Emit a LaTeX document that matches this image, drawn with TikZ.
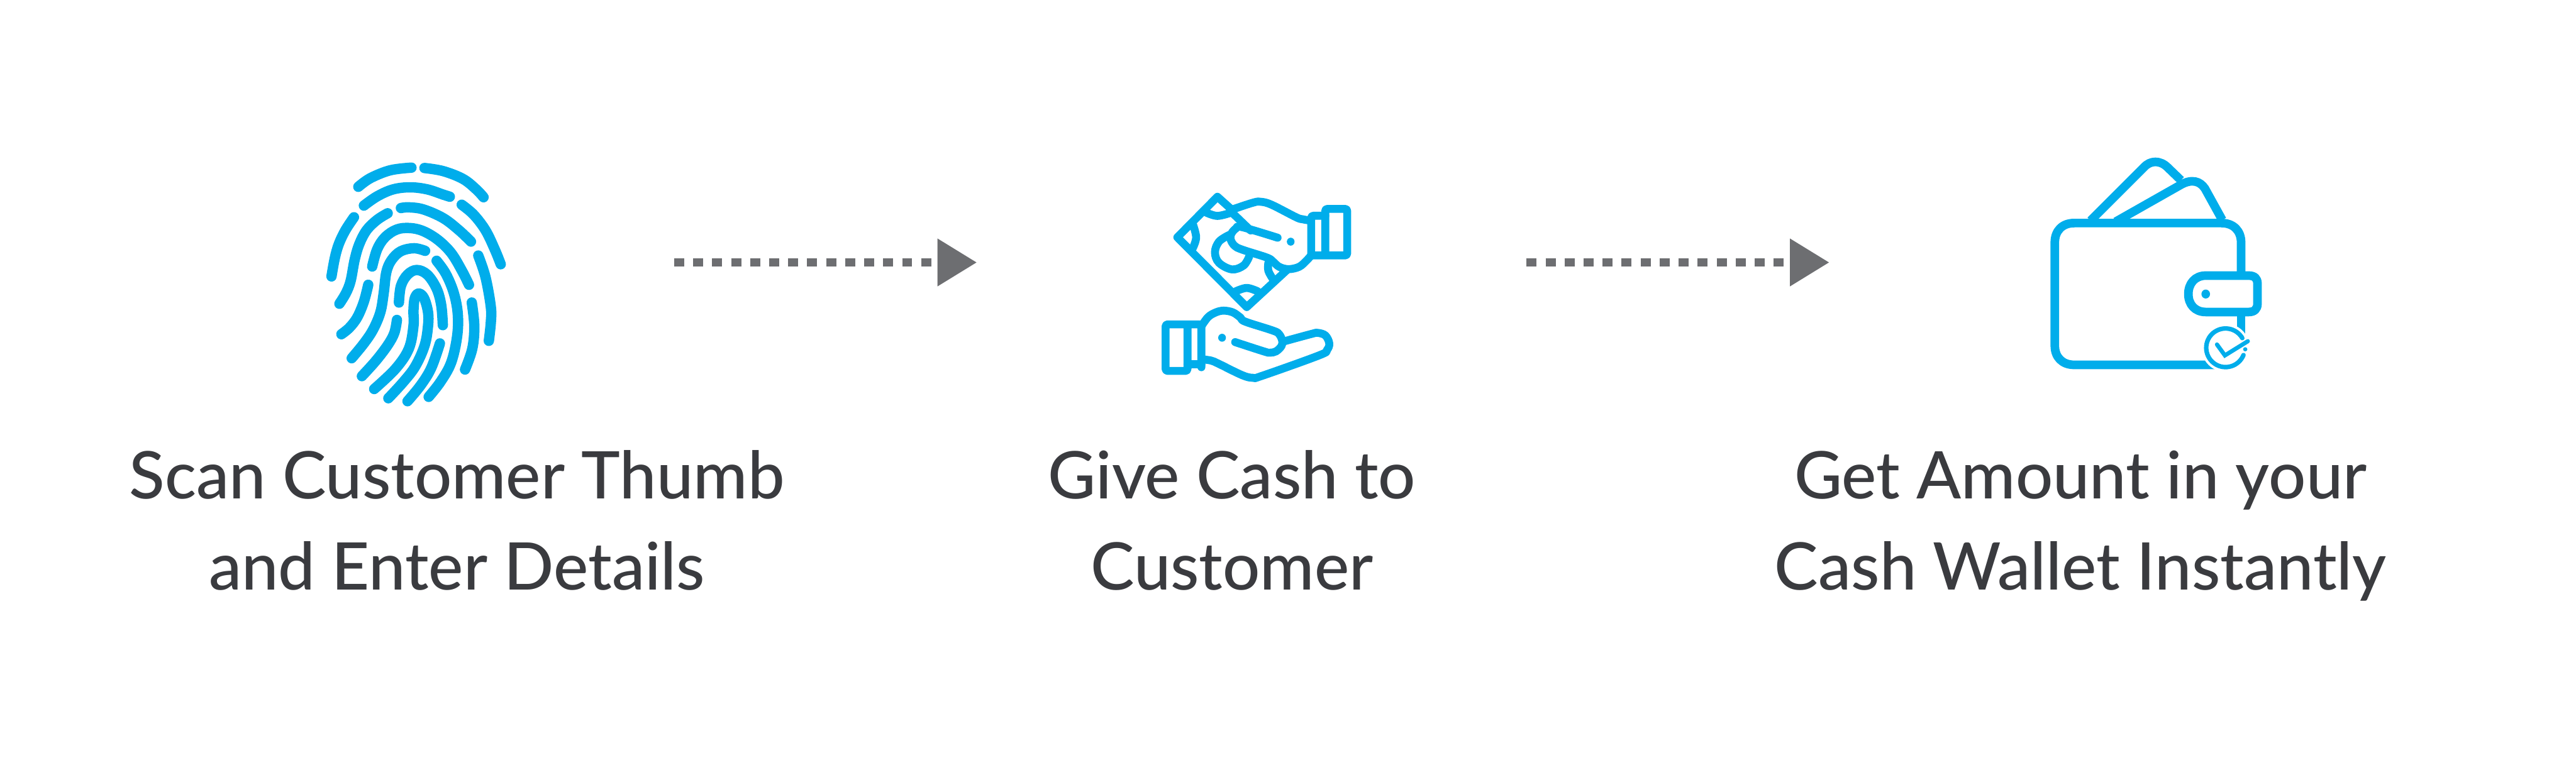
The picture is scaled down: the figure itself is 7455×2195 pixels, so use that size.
\documentclass[tikz,border=0pt]{standalone}
\usepackage{fontspec}
\setmainfont{Lato Medium}
\usetikzlibrary{arrows.meta}
\definecolor{iconblue}{HTML}{00ADEB}
\definecolor{arrowgray}{HTML}{6D6E71}
\definecolor{textgray}{HTML}{3A3B3F}
\tikzset{
  ridge/.style={draw=iconblue,line width=3pt,line cap=round,line join=round},
  handline/.style={draw=iconblue,line width=2.3pt,line cap=round,line join=round},
  walletline/.style={draw=iconblue,line width=2.5pt,line cap=butt,line join=round},
  flowarrow/.style={draw=arrowgray,line width=2.4pt,dash pattern=on 2.9pt off 2.6pt,
    -{Triangle[length=11.4pt,width=13.2pt,fill=arrowgray]}},
  caption/.style={text=textgray,font=\fontsize{19pt}{26.4pt}\selectfont,align=center,anchor=base,inner sep=0pt},
}
\newcommand{\rg}[1]{\draw[ridge] plot[smooth,tension=0.6] coordinates {#1};}
\newcommand{\hl}[1]{\draw[handline] plot[smooth,tension=0.6] coordinates {#1};}
\begin{document}
\begin{tikzpicture}[x=0.1pt,y=-0.1pt]
\useasboundingbox (0,0) rectangle (7455,2195);
\fill[white] (0,0) rectangle (7455,2195);
% fingerprint
\begin{scope}[shift={(900,420)},x=0.03827pt,y=-0.0504pt]
\rg{(358,240)(450,190)(600,145)(760,130)}
\rg{(858,132)(1000,150)(1150,195)(1250,255)(1305,300)}
\rg{(400,348)(500,295)(620,255)(750,243)(880,255)(1000,285)(1050,297)}
\rg{(680,362)(740,358)(850,370)(1000,420)(1120,490)(1210,555)}
\rg{(1140,343)(1230,400)(1320,490)(1390,600)(1435,685)}
\rg{(580,392)(500,430)(420,490)(365,570)(330,660)(300,780)(265,850)(215,912)}
\rg{(325,415)(260,490)(210,570)(180,650)(155,755)}
\rg{(463,698)(500,600)(560,530)(650,485)(750,477)(850,495)(960,545)(1060,620)(1140,720)(1195,803)}
\rg{(433,803)(400,900)(350,990)(290,1050)(230,1087)}
\rg{(863,608)(780,593)(680,610)(610,660)(570,730)(550,850)(525,960)(470,1060)(400,1140)(308,1225)}
\rg{(665,905)(680,810)(730,745)(800,718)(880,745)(950,825)(985,920)(997,1035)}
\rg{(478,1402)(640,1285)(740,1170)(775,1040)(775,950)(785,880)(815,853)(855,880)(885,960)(885,1040)(860,1150)(790,1270)(700,1360)(585,1455)}
\rg{(385,1328)(490,1240)(580,1150)(630,1080)(650,1005)}
\rg{(730,1472)(830,1380)(910,1280)(975,1140)}
\rg{(950,665)(1020,740)(1080,850)(1110,970)(1105,1100)(1060,1250)(980,1360)(890,1447)}
\rg{(1216,905)(1235,1040)(1220,1170)(1165,1290)}
\rg{(1265,635)(1320,760)(1360,930)(1360,1020)(1345,1125)}
\end{scope}
% money and hands
\begin{scope}[shift={(3300,520)},x=0.04464pt,y=-0.03827pt]
\draw[handline] (600,235)--(500,130)--(240,437)--(690,965)--(955,680);
\draw[handline] (590,245)--(715,385);
\hl{(428,250)(500,275)(590,250)}
\hl{(340,335)(362,437)(340,520)}
\hl{(620,845)(690,820)(760,845)}
\hl{(858,750)(830,690)(830,630)}
\hl{(575,420)(510,470)(484,550)(510,630)(595,680)(670,650)(705,585)}
\hl{(600,225)(730,175)(780,168)(850,190)(1010,285)(1050,300)(1100,310)}
\hl{(890,440)(660,360)(620,370)(590,410)(585,450)(610,500)(660,530)(820,590)(860,620)(900,660)(960,678)(1030,660)(1080,610)(1110,570)}
\draw[handline,rounded corners=0.6pt] (1108,574)--(1108,274)--(1199,274);
\draw[handline,rounded corners=0.6pt] (1108,574)--(1341,574)--(1341,222)--(1199,222)--(1199,574);
\fill[iconblue] (975,470) ellipse[x radius=25,y radius=30];
\draw[handline,rounded corners=0.6pt] (396,1396)--(306,1396);
\draw[handline,rounded corners=0.6pt] (396,1420)--(396,1096)--(164,1096)--(164,1448)--(306,1448)--(306,1096);
\hl{(396,1110)(440,1040)(490,1005)(540,992)(600,1005)(650,1045)(680,1075)(860,1143)(900,1170)(920,1220)(915,1260)(880,1300)(840,1310)(800,1300)(615,1230)}
\hl{(400,1360)(460,1370)(510,1395)(660,1480)(730,1500)(790,1485)(1160,1330)(1210,1290)(1225,1240)(1200,1180)(1150,1160)(1110,1168)(930,1225)}
\fill[iconblue] (530,1197) ellipse[x radius=25,y radius=30];
\end{scope}
% wallet
\begin{scope}[shift={(5850,420)},x=0.04783pt,y=-0.04337pt]
\draw[walletline] (1329,1260)--(1329,1143);
\draw[walletline] (1329,860)--(1329,650) .. controls (1329,575) and (1285,521) .. (1210,521)--(320,521)
  .. controls (245,521) and (202,575) .. (202,650)--(202,1340) .. controls (202,1415) and (245,1468) .. (320,1468)--(1180,1468);
\draw[walletline] (418,505)--(740,150) .. controls (780,100) and (840,100) .. (885,150)--(965,235);
\draw[walletline] (570,512)--(965,265) .. controls (1030,225) and (1080,240) .. (1110,290)--(1215,500);
\draw[walletline] (1329,872)--(1115,872) .. controls (1050,872) and (1010,925) .. (1010,995)
  .. controls (1010,1065) and (1050,1115) .. (1115,1115)--(1375,1115)
  .. controls (1410,1115) and (1428,1095) .. (1428,1060)--(1428,925)
  .. controls (1428,890) and (1410,872) .. (1375,872)--(1329,872);
\fill[iconblue] (1115,995) ellipse[x radius=26,y radius=30];
\fill[white] (1235,1354) ellipse[x radius=146,y radius=161];
\draw[iconblue,line width=1.3pt,line cap=round] plot[smooth,domain=30:338,samples=50] ({1235+117*cos(\x)},{1354-129*sin(\x)});
\draw[iconblue,line width=1.2pt,line cap=round,line join=miter] (1183,1332)--(1231,1405)--(1370,1310);
\fill[iconblue] (1354,1364) ellipse[x radius=13,y radius=14];
\end{scope}
% arrows
\coordinate (a1s) at (1951,760);
\coordinate (a1e) at (2827,760);
\coordinate (a2s) at (4418,760);
\coordinate (a2e) at (5294,760);
\draw[flowarrow] (a1s)--(a1e);
\draw[flowarrow] (a2s)--(a2e);
% captions
\node[caption] (c1) at (1322,1708) {Scan Customer Thumb\\and Enter Details};
\node[caption] (c2) at (3565,1708) {Give Cash to\\Customer};
\node[caption] (c3) at (6021,1708) {Get Amount in your\\Cash Wallet Instantly};
\end{tikzpicture}
\end{document}
